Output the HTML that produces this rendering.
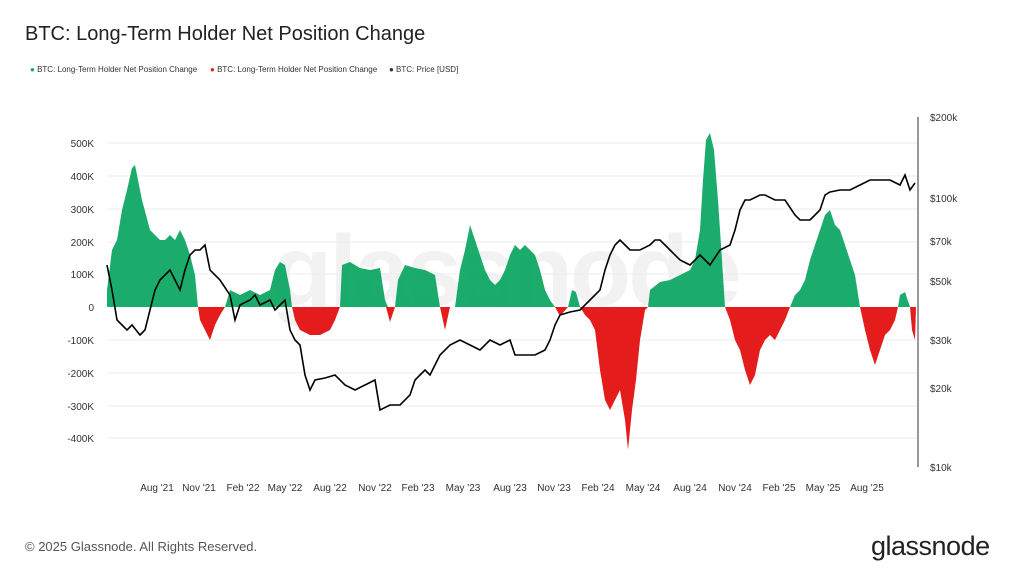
<!DOCTYPE html><html><head><style>
body{margin:0;width:1024px;height:576px;background:#fff;font-family:"Liberation Sans",sans-serif;overflow:hidden;position:relative}
.t{position:absolute;white-space:nowrap}
</style></head><body>
<div class="t" style="left:25px;top:23px;font-size:20px;color:#222">BTC: Long-Term Holder Net Position Change</div>
<div class="t" style="left:30px;top:65px;font-size:8px;color:#333"><span style="color:#0fa865">●</span> BTC: Long-Term Holder Net Position Change</div>
<div class="t" style="left:210px;top:65px;font-size:8px;color:#333"><span style="color:#e51c1c">●</span> BTC: Long-Term Holder Net Position Change</div>
<div class="t" style="left:389px;top:65px;font-size:8px;color:#333">● BTC: Price [USD]</div>
<div class="t" style="left:25px;top:539px;font-size:13px;color:#555">© 2025 Glassnode. All Rights Reserved.</div>
<div class="t" style="left:871px;top:531px;font-size:27px;color:#222;letter-spacing:-0.5px">glassnode</div>
<svg width="1024" height="576" style="position:absolute;left:0;top:0" font-family="Liberation Sans" font-size="10" fill="#333">
<text x="505" y="305" font-size="100" fill="#f2f2f2" text-anchor="middle" font-weight="bold" letter-spacing="-3">glassnode</text>
<g stroke="#eee"><line x1="107" x2="918" y1="143" y2="143"/><line x1="107" x2="918" y1="176" y2="176"/><line x1="107" x2="918" y1="209" y2="209"/><line x1="107" x2="918" y1="242" y2="242"/><line x1="107" x2="918" y1="274" y2="274"/><line x1="107" x2="918" y1="340" y2="340"/><line x1="107" x2="918" y1="373" y2="373"/><line x1="107" x2="918" y1="406" y2="406"/><line x1="107" x2="918" y1="438" y2="438"/></g>
<g text-anchor="end"><text x="94" y="147">500K</text><text x="94" y="180">400K</text><text x="94" y="213">300K</text><text x="94" y="246">200K</text><text x="94" y="278">100K</text><text x="94" y="311">0</text><text x="94" y="344">-100K</text><text x="94" y="377">-200K</text><text x="94" y="410">-300K</text><text x="94" y="442">-400K</text></g>
<g><text x="930" y="121">$200k</text><text x="930" y="202">$100k</text><text x="930" y="245">$70k</text><text x="930" y="285">$50k</text><text x="930" y="344">$30k</text><text x="930" y="392">$20k</text><text x="930" y="471">$10k</text></g>
<g text-anchor="middle"><text x="157" y="491">Aug '21</text><text x="199" y="491">Nov '21</text><text x="243" y="491">Feb '22</text><text x="285" y="491">May '22</text><text x="330" y="491">Aug '22</text><text x="375" y="491">Nov '22</text><text x="418" y="491">Feb '23</text><text x="463" y="491">May '23</text><text x="510" y="491">Aug '23</text><text x="554" y="491">Nov '23</text><text x="598" y="491">Feb '24</text><text x="643" y="491">May '24</text><text x="690" y="491">Aug '24</text><text x="735" y="491">Nov '24</text><text x="779" y="491">Feb '25</text><text x="823" y="491">May '25</text><text x="867" y="491">Aug '25</text></g>
<line x1="918" x2="918" y1="117" y2="467" stroke="#333"/>
<g fill="#0fa865" opacity="0.95">
<polygon points="107,307 107,290 112,250 117,240 122,210 127,190 132,168 135,165 138,180 142,200 146,215 150,230 155,235 160,240 165,240 170,235 175,240 180,230 185,240 190,255 195,275 198,307"/>
<polygon points="225,307 230,290 240,295 250,290 260,295 270,290 275,270 280,262 285,265 290,290 292,307"/>
<polygon points="340,307 342,265 350,262 360,268 370,270 380,268 385,300 388,307"/>
<polygon points="395,307 398,280 405,265 415,268 425,270 435,275 440,307"/>
<polygon points="455,307 460,270 465,250 470,225 475,240 480,255 485,270 490,280 495,285 500,280 505,270 510,255 515,245 520,250 525,245 530,250 535,255 540,270 545,290 550,300 555,307"/>
<polygon points="568,307 572,290 576,292 580,307"/>
<polygon points="648,307 650,290 660,282 670,280 680,275 690,270 695,260 700,230 703,180 706,140 710,133 714,150 718,200 722,260 725,307"/>
<polygon points="790,307 795,295 800,290 805,280 810,260 815,245 820,230 825,215 830,210 835,225 840,230 845,245 850,260 855,275 860,307"/>
<polygon points="898,307 900,295 905,292 910,307"/>
</g>
<g fill="#e51c1c">
<polygon points="198,307 200,320 205,330 210,340 215,325 220,315 225,307"/>
<polygon points="292,307 295,320 300,330 310,335 320,335 330,330 335,320 340,307"/>
<polygon points="386,307 390,322 395,307"/>
<polygon points="440,307 445,330 450,307"/>
<polygon points="555,307 560,316 568,307"/>
<polygon points="580,307 585,315 590,320 595,330 600,370 605,400 610,410 615,400 620,390 625,420 628,450 632,410 636,380 640,340 645,310 648,307"/>
<polygon points="725,307 730,320 735,340 740,350 745,370 750,385 755,375 760,350 765,340 770,335 775,340 780,330 785,320 790,307"/>
<polygon points="860,307 865,330 870,350 875,365 880,350 885,335 890,330 895,320 898,307"/>
<polygon points="910,307 912,330 915,340 916,307"/>
</g>
<polyline fill="none" stroke="#000" stroke-width="1.6" points="107,265 112,290 117,320 122,325 127,330 132,325 140,335 145,330 150,310 155,290 160,280 170,270 180,290 185,270 190,255 195,250 200,250 205,245 210,270 220,280 230,295 235,320 240,305 250,300 255,295 260,305 270,300 275,310 285,300 290,330 295,340 300,345 305,375 310,390 315,380 325,378 335,375 345,385 355,390 365,385 375,380 380,410 390,405 400,405 410,395 415,380 420,375 425,370 430,375 440,355 450,345 460,340 470,345 480,350 490,340 500,345 510,340 515,355 525,355 535,355 545,350 550,340 555,325 560,315 570,312 580,310 590,300 595,295 600,290 605,270 610,255 615,245 620,240 625,245 630,250 640,250 650,245 655,240 660,240 670,250 680,260 690,265 700,255 710,265 720,250 730,245 735,230 740,210 745,200 750,200 760,195 765,195 775,200 785,200 795,215 800,220 810,220 815,215 820,210 825,195 830,192 840,190 850,190 860,185 870,180 880,180 890,180 900,185 905,175 910,190 915,183"/>
</svg>
</body></html>
